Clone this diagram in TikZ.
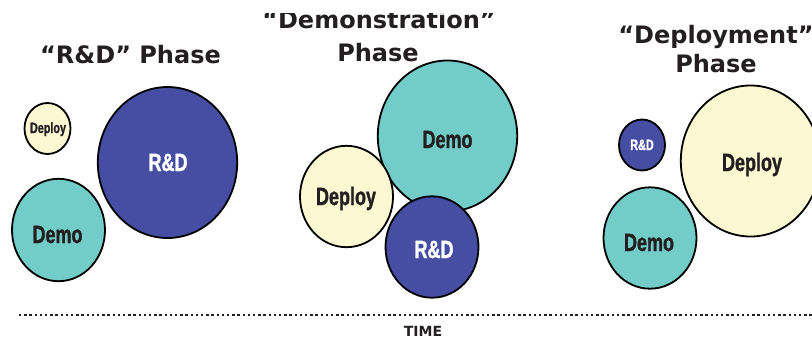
\documentclass[tikz,border=0pt]{standalone}
\usepackage{fontspec}
\setmainfont{DejaVu Sans}
\newfontfamily\titlefont{DejaVu Sans}
\newfontfamily\lblfont[FakeStretch=0.72,FakeBold=1.2]{Liberation Sans}
\usetikzlibrary{shapes.geometric}
\definecolor{rdblue}{RGB}{70,78,163}
\definecolor{demoteal}{RGB}{114,205,200}
\definecolor{deploycream}{RGB}{251,248,210}
\definecolor{ink}{RGB}{35,31,32}
\begin{document}
\begin{tikzpicture}[x=1pt,y=-1pt,
  bubble/.style={ellipse, draw=black, line width=1.8pt, inner sep=0pt, outer sep=0pt},
  rd/.style={bubble, fill=rdblue},
  demo/.style={bubble, fill=demoteal},
  dep/.style={bubble, fill=deploycream},
  big/.style={minimum width=139.4pt, minimum height=151pt},
  mid/.style={minimum width=93pt, minimum height=101.4pt},
  small/.style={minimum width=46pt, minimum height=51pt},
  lbl/.style={anchor=base, inner sep=0pt, text=ink, font=\lblfont\bfseries\fontsize{25}{25}\selectfont},
  lblw/.style={lbl, text=white},
  slbl/.style={anchor=base, inner sep=0pt, text=ink, font=\lblfont\bfseries\fontsize{15}{15}\selectfont},
  slblw/.style={slbl, text=white},
  title/.style={anchor=base, inner sep=0pt, text=ink, font=\titlefont\bfseries\fontsize{24}{24}\selectfont},
  timelbl/.style={anchor=base, inner sep=0pt, text=ink, font=\titlefont\bfseries\fontsize{14}{14}\selectfont},
  dotline/.style={draw=ink, line width=2.4pt, dash pattern=on 2.4pt off 2.8pt}
]
\clip (0,0) rectangle (812,341);

% ---- titles ----
\node[title] (t1) at (130.5,63) {“R\&D” Phase};
\begin{scope}
  \clip (0,13) rectangle (812,40);
  \node[title] (t2a) at (379,28) {“Demonstration”};
\end{scope}
\node[title] (t2b) at (378,61) {Phase};
\node[title] (t3a) at (716,43) {“Deployment”};
\node[title] (t3b) at (716,72) {Phase};

% ---- R&D phase ----
\node[dep, small] (p1dep) at (47.5,128.5) {};
\node[rd, big] (p1rd) at (167.5,162.5) {};
\node[demo, mid, minimum height=102.4pt] (p1demo) at (58.5,230) {};
\node[slbl] (p1depl) at (48,133) {Deploy};
\node[lblw] (p1rdl) at (168,171) {R\&D};
\node[lbl] (p1demol) at (57.5,243) {Demo};

% ---- Demonstration phase ----
\node[demo, big] (p2demo) at (447.5,136) {};
\node[dep, mid] (p2dep) at (346.5,196.5) {};
\node[rd, mid] (p2rd) at (432,247) {};
\node[lbl] (p2demol) at (447.5,148) {Demo};
\node[lbl] (p2depl) at (346,205) {Deploy};
\node[lblw] (p2rdl) at (434,258) {R\&D};

% ---- Deployment phase ----
\node[rd, small] (p3rd) at (642,145) {};
\node[dep, big] (p3dep) at (750.5,161) {};
\node[demo, mid] (p3demo) at (650,238) {};
\node[slblw] (p3rdl) at (642,150) {R\&D};
\node[lbl] (p3depl) at (752,171) {Deploy};
\node[lbl] (p3demol) at (649,251) {Demo};

% ---- time axis ----
\coordinate (tl) at (19,315);
\coordinate (tr) at (814,315);
\draw[dotline] (tl) -- (tr);
\node[timelbl] (time) at (423,336) {TIME};
\end{tikzpicture}
\end{document}
